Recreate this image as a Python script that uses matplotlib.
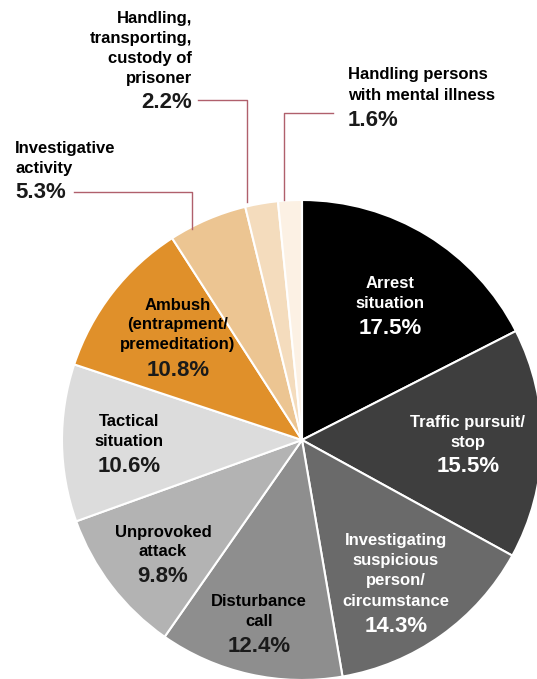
import matplotlib
matplotlib.use("Agg")
import matplotlib.pyplot as plt

# data, clockwise from 12 o'clock
categories = ["Arrest\nsituation", "Traffic pursuit/\nstop",
              "Investigating\nsuspicious\nperson/\ncircumstance",
              "Disturbance\ncall", "Unprovoked\nattack", "Tactical\nsituation",
              "Ambush\n(entrapment/\npremeditation)", "Investigative\nactivity",
              "Handling,\ntransporting,\ncustody of\nprisoner",
              "Handling persons\nwith mental illness"]
values = [17.5, 15.5, 14.3, 12.4, 9.8, 10.6, 10.8, 5.3, 2.2, 1.6]
colors = ["#000000", "#3e3e3e", "#6a6a6a", "#8e8e8e", "#b3b3b3", "#dcdcdc",
          "#e0902a", "#ecc592", "#f4dcbd", "#fcf1e4"]

plt.rcParams['font.family'] = ['Liberation Sans', 'DejaVu Sans']

W, H = 537, 679
fig = plt.figure(figsize=(W / 100, H / 100), dpi=100)
ax = fig.add_axes([0, 0, 1, 1])

cx, cy, r = 302, 440, 240
# y axis is inverted, so counterclock=True draws clockwise on screen
ax.pie(values, colors=colors, startangle=-90, counterclock=True,
       center=(cx, cy), radius=r, frame=True,
       wedgeprops=dict(edgecolor='white', linewidth=1.5))
ax.set_xlim(0, W)
ax.set_ylim(H, 0)
ax.axis('off')

# label positions (pixels): x, y of top line, alignment, text colour
lab = [
    (390, 284, 'center', 'white'),
    (468, 422, 'center', 'white'),
    (396, 541, 'center', 'white'),
    (259, 602, 'center', 'black'),
    (163, 532, 'center', 'black'),
    (129, 421, 'center', 'black'),
    (178, 305, 'center', 'black'),
    (15, 148, 'left', 'black'),
    (192, 18, 'right', 'black'),
    (348, 75, 'left', 'black'),
]
lh = 20
for name, v, (x, y, ha, c) in zip(categories, values, lab):
    lines = name.split("\n")
    for i, ln in enumerate(lines):
        ax.text(x, y + i * lh, ln, ha=ha, va='center', color=c,
                fontsize=12, fontweight='bold')
    pc = c if c == 'white' else '#1a1a1a'
    ax.text(x, y + len(lines) * lh + 5, f"{v}%", ha=ha, va='center',
            color=pc, fontsize=16, fontweight='bold')

# leader lines for small slices
lc = '#b0606c'
ax.plot([74, 192, 192], [192, 192, 229], color=lc, lw=1)
ax.plot([198, 247, 247], [100, 100, 202], color=lc, lw=1)
ax.plot([333, 284, 284], [113, 113, 200], color=lc, lw=1)

fig.savefig("out.png", dpi=100)
